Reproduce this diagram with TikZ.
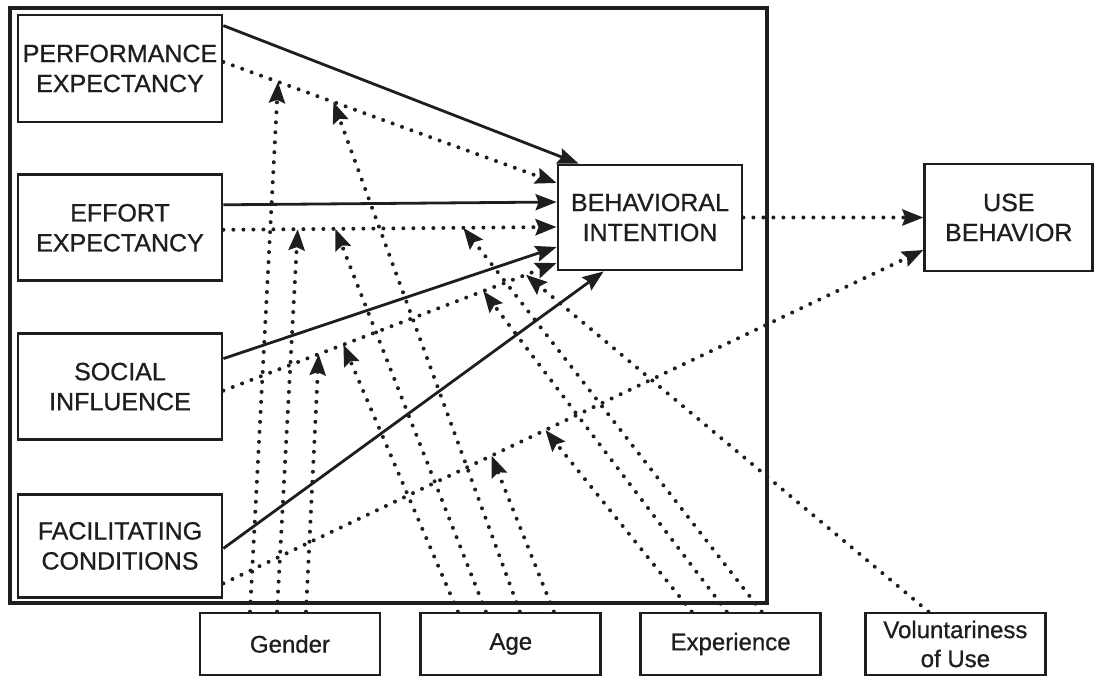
\documentclass[tikz,border=0pt]{standalone}
\usepackage{fontspec}
\setmainfont{Liberation Sans}[FakeBold=0.8]
\usetikzlibrary{arrows.meta,positioning,calc}
\definecolor{cInk}{HTML}{1E1E1E}

\begin{document}
\begin{tikzpicture}[
    x=1pt, y=-1pt,
    font=\fontsize{25}{30}\selectfont,
    construct/.style={draw=cInk, line width=2.8pt, align=center, inner sep=0pt,
                      text=cInk, minimum width=204pt},
    moderator/.style={construct, minimum width=180pt, minimum height=62pt,
                      font=\fontsize{24}{29}\selectfont},
    direct/.style={-{Stealth[length=21pt,width=16pt,inset=3pt]}, line width=2.8pt, draw=cInk},
    dotflow/.style={direct, line width=4pt, dash pattern=on 0pt off 10pt, line cap=round},
  ]
  \useasboundingbox (0,0) rectangle (1100,680);
  \node[draw=cInk, line width=3.4pt, inner sep=0pt, minimum width=757pt,
        minimum height=595pt] (frame) at (388.5,305.5) {};
  % determinants
  \node[construct, minimum height=107pt] (pe) at (120,68.5) {PERFORMANCE\\EXPECTANCY};
  \node[construct, minimum height=106pt, below=50pt of pe] (ee) {EFFORT\\EXPECTANCY};
  \node[construct, minimum height=106pt, below=50pt of ee] (si) {SOCIAL\\INFLUENCE};
  \node[construct, minimum height=103pt, below=52pt of si] (fc) {FACILITATING\\CONDITIONS};
  \node[construct, minimum width=184pt, minimum height=105pt] (bi) at (650,217.5)
    {BEHAVIORAL\\INTENTION};
  \node[construct, minimum width=168pt, minimum height=107pt, right=180pt of bi] (ub)
    {USE\\BEHAVIOR};
  % moderators
  \node[moderator] (gender) at (290,644) {Gender};
  \node[moderator, right=38pt of gender] (age) {Age};
  \node[moderator, right=37pt of age] (exper) {Experience};
  \node[moderator, right=42pt of exper] (volun) {Voluntariness\\of Use};
  % direct paths
  \draw[direct] ([yshift=-12pt]pe.north east) -- ([xshift=22pt]bi.north west);
  \draw[direct] ([yshift=23pt]ee.east) -- ([yshift=15.5pt]bi.west);
  \draw[direct] ([yshift=28pt]si.east) -- ([yshift=-29.5pt]bi.west);
  \draw[direct] ([yshift=-2.5pt]fc.east) -- ([xshift=47pt]bi.south west);
  \draw[dotflow] ([yshift=6.5pt]pe.east) --
    coordinate[pos=0.164] (pe-g) coordinate[pos=0.330] (pe-a) ([yshift=34.5pt]bi.west);
  \draw[dotflow] ([yshift=-2pt]ee.east) --
    coordinate[pos=0.223] (ee-g) coordinate[pos=0.336] (ee-a) coordinate[pos=0.72] (ee-e)
    ([yshift=-9.5pt]bi.west);
  \draw[dotflow] ([yshift=-4pt]si.east) --
    coordinate[pos=0.286] (si-g) coordinate[pos=0.360] (si-a) coordinate[pos=0.78] (si-e)
    coordinate[pos=0.908] (si-v) ([yshift=-45.5pt]bi.west);
  \draw[dotflow] ([yshift=-37.5pt]fc.east) --
    coordinate[pos=0.383] (fc-a) coordinate[pos=0.46] (fc-e) ([yshift=-32.5pt]ub.west);
  \draw[dotflow] (bi.east) -- (ub.west);
  % moderating effects
  \draw[dotflow] ([xshift=-40pt]gender.north) -- (pe-g);
  \draw[dotflow] ([xshift=-13pt]gender.north) -- (ee-g);
  \draw[dotflow] ([xshift=16pt]gender.north) -- (si-g);
  \draw[dotflow] ([xshift=-53pt]age.north) -- (si-a);
  \draw[dotflow] ([xshift=-25pt]age.north) -- (ee-a);
  \draw[dotflow] ([xshift=9pt]age.north) -- (pe-a);
  \draw[dotflow] ([xshift=43pt]age.north) -- (fc-a);
  \draw[dotflow] ([xshift=-39pt]exper.north) -- (fc-e);
  \draw[dotflow] ([xshift=-4pt]exper.north) -- (si-e);
  \draw[dotflow] ([xshift=31pt]exper.north) -- (ee-e);
  \draw[dotflow] ([xshift=-27pt]volun.north) -- (si-v);
\end{tikzpicture}
\end{document}
